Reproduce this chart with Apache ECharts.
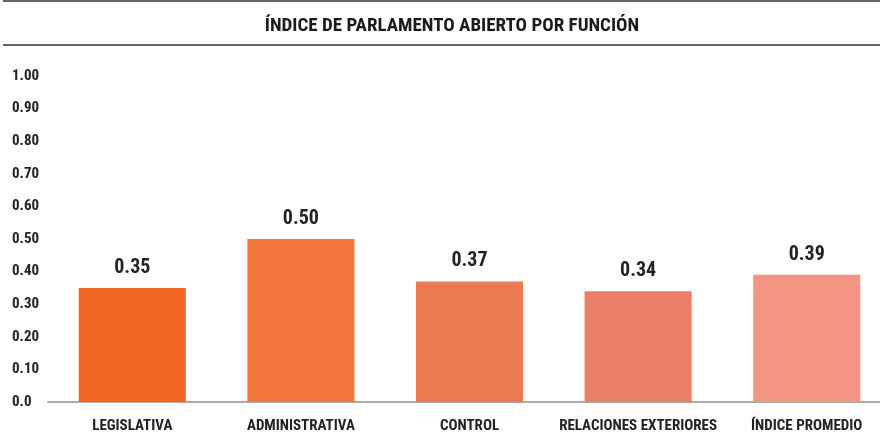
<!DOCTYPE html>
<html>
<head>
<meta charset="utf-8">
<title>Índice de Parlamento Abierto por Función</title>
<script src="https://cdn.jsdelivr.net/npm/echarts@6/dist/echarts.min.js"></script>
<style>
  html, body { margin: 0; padding: 0; background: #fff; }
  #chart { width: 880px; height: 443px; }
</style>
</head>
<body>
<div id="chart"></div>
<script>
  // datos
  var categorias = ['LEGISLATIVA', 'ADMINISTRATIVA', 'CONTROL', 'RELACIONES EXTERIORES', 'ÍNDICE PROMEDIO'];
  var valores = [0.35, 0.50, 0.37, 0.34, 0.39];
  var colores = ['#F26522', '#F3763A', '#EA7A50', '#E87F66', '#F49484'];
  var ticksY = [0, 0.1, 0.2, 0.3, 0.4, 0.5, 0.6, 0.7, 0.8, 0.9, 1.0];

  var fuente = '"Roboto Condensed", "DejaVu Sans Condensed", sans-serif';

  var myChart = echarts.init(document.getElementById('chart'));

  var option = {
    animation: false,
    title: {
      text: 'ÍNDICE DE PARLAMENTO ABIERTO POR FUNCIÓN',
      left: 447,
      textAlign: 'center',
      top: 12,
      textStyle: { fontFamily: fuente, fontWeight: 'bold', fontSize: 19, color: '#1a1a1a' }
    },
    graphic: [
      { type: 'rect', shape: { x: 3, y: 0, width: 877, height: 2 }, style: { fill: '#666' } },
      { type: 'rect', shape: { x: 3, y: 44, width: 877, height: 2 }, style: { fill: '#666' } }
    ],
    // la última barra llega casi al borde: se deja que la rejilla salga del lienzo
    grid: { left: 48, right: -11, top: 76, bottom: 41, outerBoundsMode: 'none' },
    xAxis: {
      type: 'category',
      data: categorias,
      axisLine: { lineStyle: { color: '#aaa', width: 2 } },
      axisTick: { show: false },
      axisLabel: {
        interval: 0, margin: 17,
        fontFamily: fuente, fontWeight: 'bold', fontSize: 15, color: '#222'
      }
    },
    yAxis: {
      type: 'value',
      min: 0, max: 1, interval: 0.1,
      splitLine: { show: false },
      axisLine: { show: false },
      axisTick: { show: false },
      axisLabel: {
        align: 'left', margin: 36,
        fontFamily: fuente, fontWeight: 'bold', fontSize: 15, color: '#222',
        formatter: function (v) { return v === 0 ? '0.0' : v.toFixed(2); }
      }
    },
    series: [{
      type: 'bar',
      barWidth: '63.5%',
      data: valores.map(function (v, i) {
        return { value: v, itemStyle: { color: colores[i] } };
      }),
      label: {
        show: true, position: 'top', distance: 10,
        fontFamily: fuente, fontWeight: 'bold', fontSize: 20, color: '#222',
        formatter: function (p) { return p.value.toFixed(2); }
      }
    }]
  };

  myChart.setOption(option);
</script>
</body>
</html>
